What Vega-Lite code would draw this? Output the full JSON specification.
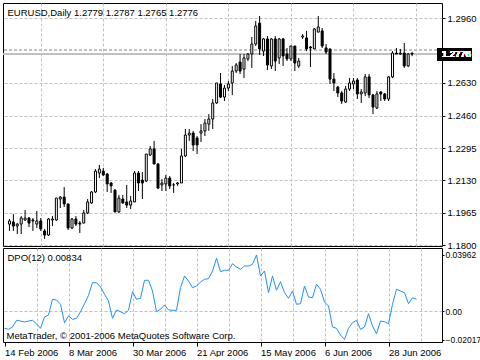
{
  "$schema": "https://vega.github.io/schema/vega-lite/v6.json",
  "padding": {"left": 2, "top": 2, "right": 0, "bottom": 0},
  "autosize": {"type": "pad"},
  "background": "white",
  "bounds": "flush",
  "config": {
    "view": {"stroke": "black", "strokeWidth": 1},
    "concat": {"spacing": 2},
    "axis": {"labelFont": "Liberation Sans", "labelFontSize": 9.5, "labelColor": "black", "titleFont": "Liberation Sans", "titleFontSize": 9.5, "titleFontWeight": "normal", "titleColor": "black", "labelOverlap": false, "labelFlush": false}
  },
  "datasets": {
    "bars": [
      {"i":0,"d":"2006-02-14","o":1.1907,"h":1.1933,"l":1.1872,"c":1.1923,"dpo":-0.01224},
      {"i":1,"d":"2006-02-15","o":1.1918,"h":1.1958,"l":1.1872,"c":1.1897,"dpo":-0.01295},
      {"i":2,"d":"2006-02-16","o":1.1897,"h":1.1912,"l":1.1856,"c":1.1907,"dpo":-0.01132},
      {"i":3,"d":"2006-02-17","o":1.1907,"h":1.1948,"l":1.1856,"c":1.1938,"dpo":-0.00658},
      {"i":4,"d":"2006-02-20","o":1.1928,"h":1.1979,"l":1.1923,"c":1.1938,"dpo":-0.00708},
      {"i":5,"d":"2006-02-21","o":1.1938,"h":1.1943,"l":1.1892,"c":1.1912,"dpo":-0.00778},
      {"i":6,"d":"2006-02-22","o":1.1928,"h":1.1938,"l":1.1872,"c":1.1923,"dpo":-0.00708},
      {"i":7,"d":"2006-02-23","o":1.1907,"h":1.1974,"l":1.1887,"c":1.1923,"dpo":-0.00658},
      {"i":8,"d":"2006-02-24","o":1.1923,"h":1.1938,"l":1.1872,"c":1.1882,"dpo":-0.00899},
      {"i":9,"d":"2006-02-27","o":1.1872,"h":1.1882,"l":1.1831,"c":1.1851,"dpo":-0.01224},
      {"i":10,"d":"2006-02-28","o":1.1851,"h":1.1938,"l":1.1846,"c":1.1933,"dpo":-0.00425},
      {"i":11,"d":"2006-03-01","o":1.1928,"h":1.1948,"l":1.1897,"c":1.1933,"dpo":-0.00283},
      {"i":12,"d":"2006-03-02","o":1.1928,"h":1.2040,"l":1.1923,"c":1.2040,"dpo":0.00828},
      {"i":13,"d":"2006-03-03","o":1.2035,"h":1.2050,"l":1.1989,"c":1.2045,"dpo":0.00778},
      {"i":14,"d":"2006-03-06","o":1.2045,"h":1.2096,"l":1.1994,"c":1.2010,"dpo":0.00474},
      {"i":15,"d":"2006-03-07","o":1.2010,"h":1.2010,"l":1.1877,"c":1.1887,"dpo":-0.00828},
      {"i":16,"d":"2006-03-08","o":1.1887,"h":1.1938,"l":1.1882,"c":1.1933,"dpo":-0.00354},
      {"i":17,"d":"2006-03-09","o":1.1933,"h":1.1948,"l":1.1897,"c":1.1907,"dpo":-0.00587},
      {"i":18,"d":"2006-03-10","o":1.1912,"h":1.1923,"l":1.1861,"c":1.1907,"dpo":-0.00517},
      {"i":19,"d":"2006-03-13","o":1.1912,"h":1.1979,"l":1.1912,"c":1.1964,"dpo":-0.00050},
      {"i":20,"d":"2006-03-14","o":1.1964,"h":1.2035,"l":1.1958,"c":1.2020,"dpo":0.00517},
      {"i":21,"d":"2006-03-15","o":1.2015,"h":1.2076,"l":1.2010,"c":1.2071,"dpo":0.01111},
      {"i":22,"d":"2006-03-16","o":1.2071,"h":1.2188,"l":1.2066,"c":1.2178,"dpo":0.02003},
      {"i":23,"d":"2006-03-17","o":1.2168,"h":1.2209,"l":1.2142,"c":1.2188,"dpo":0.02003},
      {"i":24,"d":"2006-03-20","o":1.2178,"h":1.2194,"l":1.2153,"c":1.2158,"dpo":0.01699},
      {"i":25,"d":"2006-03-21","o":1.2163,"h":1.2168,"l":1.2071,"c":1.2112,"dpo":0.01182},
      {"i":26,"d":"2006-03-22","o":1.2117,"h":1.2122,"l":1.2066,"c":1.2102,"dpo":0.00708},
      {"i":27,"d":"2006-03-23","o":1.2081,"h":1.2086,"l":1.1969,"c":1.1969,"dpo":-0.00517},
      {"i":28,"d":"2006-03-24","o":1.1969,"h":1.2056,"l":1.1964,"c":1.2040,"dpo":0.00071},
      {"i":29,"d":"2006-03-27","o":1.2035,"h":1.2056,"l":1.2010,"c":1.2015,"dpo":-0.00050},
      {"i":30,"d":"2006-03-28","o":1.2020,"h":1.2107,"l":1.1989,"c":1.2004,"dpo":-0.00191},
      {"i":31,"d":"2006-03-29","o":1.2004,"h":1.2050,"l":1.1984,"c":1.2025,"dpo":0.00050},
      {"i":32,"d":"2006-03-30","o":1.2020,"h":1.2178,"l":1.2020,"c":1.2168,"dpo":0.01366},
      {"i":33,"d":"2006-03-31","o":1.2168,"h":1.2178,"l":1.2076,"c":1.2117,"dpo":0.00828},
      {"i":34,"d":"2006-04-03","o":1.2132,"h":1.2173,"l":1.2035,"c":1.2117,"dpo":0.00899},
      {"i":35,"d":"2006-04-04","o":1.2127,"h":1.2265,"l":1.2122,"c":1.2265,"dpo":0.02173},
      {"i":36,"d":"2006-04-05","o":1.2260,"h":1.2306,"l":1.2255,"c":1.2291,"dpo":0.02173},
      {"i":37,"d":"2006-04-06","o":1.2291,"h":1.2332,"l":1.2214,"c":1.2214,"dpo":0.01415},
      {"i":38,"d":"2006-04-07","o":1.2214,"h":1.2219,"l":1.2086,"c":1.2091,"dpo":-0.00050},
      {"i":39,"d":"2006-04-10","o":1.2107,"h":1.2137,"l":1.2076,"c":1.2117,"dpo":0.00120},
      {"i":40,"d":"2006-04-11","o":1.2112,"h":1.2158,"l":1.2076,"c":1.2142,"dpo":0.00425},
      {"i":41,"d":"2006-04-12","o":1.2142,"h":1.2153,"l":1.2086,"c":1.2102,"dpo":0.00071},
      {"i":42,"d":"2006-04-13","o":1.2107,"h":1.2117,"l":1.2066,"c":1.2107,"dpo":0.00050},
      {"i":43,"d":"2006-04-14","o":1.2112,"h":1.2122,"l":1.2102,"c":1.2117,"dpo":0.00050},
      {"i":44,"d":"2006-04-17","o":1.2117,"h":1.2291,"l":1.2117,"c":1.2255,"dpo":0.01649},
      {"i":45,"d":"2006-04-18","o":1.2255,"h":1.2393,"l":1.2250,"c":1.2362,"dpo":0.02477},
      {"i":46,"d":"2006-04-19","o":1.2362,"h":1.2393,"l":1.2332,"c":1.2372,"dpo":0.02123},
      {"i":47,"d":"2006-04-20","o":1.2372,"h":1.2383,"l":1.2280,"c":1.2311,"dpo":0.01649},
      {"i":48,"d":"2006-04-21","o":1.2347,"h":1.2357,"l":1.2265,"c":1.2311,"dpo":0.01769},
      {"i":49,"d":"2006-04-24","o":1.2372,"h":1.2418,"l":1.2326,"c":1.2383,"dpo":0.02052},
      {"i":50,"d":"2006-04-25","o":1.2383,"h":1.2444,"l":1.2357,"c":1.2423,"dpo":0.02243},
      {"i":51,"d":"2006-04-26","o":1.2418,"h":1.2469,"l":1.2383,"c":1.2444,"dpo":0.02286},
      {"i":52,"d":"2006-04-27","o":1.2444,"h":1.2546,"l":1.2393,"c":1.2526,"dpo":0.02831},
      {"i":53,"d":"2006-04-28","o":1.2526,"h":1.2628,"l":1.2521,"c":1.2628,"dpo":0.03730},
      {"i":54,"d":"2006-05-01","o":1.2623,"h":1.2679,"l":1.2551,"c":1.2556,"dpo":0.02781},
      {"i":55,"d":"2006-05-02","o":1.2556,"h":1.2618,"l":1.2536,"c":1.2602,"dpo":0.02880},
      {"i":56,"d":"2006-05-03","o":1.2602,"h":1.2638,"l":1.2587,"c":1.2623,"dpo":0.02880},
      {"i":57,"d":"2006-05-04","o":1.2628,"h":1.2715,"l":1.2566,"c":1.2689,"dpo":0.03348},
      {"i":58,"d":"2006-05-05","o":1.2689,"h":1.2730,"l":1.2679,"c":1.2720,"dpo":0.03114},
      {"i":59,"d":"2006-05-08","o":1.2735,"h":1.2776,"l":1.2674,"c":1.2689,"dpo":0.02951},
      {"i":60,"d":"2006-05-09","o":1.2699,"h":1.2776,"l":1.2653,"c":1.2756,"dpo":0.03185},
      {"i":61,"d":"2006-05-10","o":1.2751,"h":1.2781,"l":1.2740,"c":1.2776,"dpo":0.03185},
      {"i":62,"d":"2006-05-11","o":1.2776,"h":1.2863,"l":1.2705,"c":1.2827,"dpo":0.03305},
      {"i":63,"d":"2006-05-12","o":1.2827,"h":1.2945,"l":1.2817,"c":1.2919,"dpo":0.03962},
      {"i":64,"d":"2006-05-15","o":1.2934,"h":1.2970,"l":1.2771,"c":1.2802,"dpo":0.02477},
      {"i":65,"d":"2006-05-16","o":1.2791,"h":1.2858,"l":1.2766,"c":1.2853,"dpo":0.02831},
      {"i":66,"d":"2006-05-17","o":1.2853,"h":1.2868,"l":1.2694,"c":1.2720,"dpo":0.01295},
      {"i":67,"d":"2006-05-18","o":1.2715,"h":1.2858,"l":1.2699,"c":1.2853,"dpo":0.02477},
      {"i":68,"d":"2006-05-19","o":1.2853,"h":1.2868,"l":1.2689,"c":1.2740,"dpo":0.01465},
      {"i":69,"d":"2006-05-22","o":1.2756,"h":1.2858,"l":1.2725,"c":1.2853,"dpo":0.02074},
      {"i":70,"d":"2006-05-23","o":1.2853,"h":1.2858,"l":1.2715,"c":1.2766,"dpo":0.01295},
      {"i":71,"d":"2006-05-24","o":1.2776,"h":1.2807,"l":1.2740,"c":1.2751,"dpo":0.00899},
      {"i":72,"d":"2006-05-25","o":1.2751,"h":1.2817,"l":1.2740,"c":1.2817,"dpo":0.01415},
      {"i":73,"d":"2006-05-26","o":1.2817,"h":1.2817,"l":1.2689,"c":1.2730,"dpo":0.00474},
      {"i":74,"d":"2006-05-29","o":1.2715,"h":1.2756,"l":1.2705,"c":1.2740,"dpo":0.00517},
      {"i":75,"d":"2006-05-30","o":1.2863,"h":1.2878,"l":1.2853,"c":1.2868,"dpo":0.01769},
      {"i":76,"d":"2006-05-31","o":1.2858,"h":1.2894,"l":1.2791,"c":1.2802,"dpo":0.00991},
      {"i":77,"d":"2006-06-01","o":1.2812,"h":1.2817,"l":1.2710,"c":1.2807,"dpo":0.00941},
      {"i":78,"d":"2006-06-02","o":1.2802,"h":1.2909,"l":1.2802,"c":1.2904,"dpo":0.01890},
      {"i":79,"d":"2006-06-05","o":1.2888,"h":1.2970,"l":1.2888,"c":1.2914,"dpo":0.01536},
      {"i":80,"d":"2006-06-06","o":1.2894,"h":1.2909,"l":1.2807,"c":1.2817,"dpo":0.00637},
      {"i":81,"d":"2006-06-07","o":1.2807,"h":1.2827,"l":1.2776,"c":1.2786,"dpo":0.00354},
      {"i":82,"d":"2006-06-08","o":1.2802,"h":1.2802,"l":1.2623,"c":1.2648,"dpo":-0.01132},
      {"i":83,"d":"2006-06-09","o":1.2648,"h":1.2679,"l":1.2587,"c":1.2628,"dpo":-0.01224},
      {"i":84,"d":"2006-06-12","o":1.2607,"h":1.2613,"l":1.2556,"c":1.2577,"dpo":-0.01699},
      {"i":85,"d":"2006-06-13","o":1.2577,"h":1.2587,"l":1.2521,"c":1.2536,"dpo":-0.02017},
      {"i":86,"d":"2006-06-14","o":1.2531,"h":1.2613,"l":1.2526,"c":1.2597,"dpo":-0.01224},
      {"i":87,"d":"2006-06-15","o":1.2597,"h":1.2653,"l":1.2587,"c":1.2628,"dpo":-0.00828},
      {"i":88,"d":"2006-06-16","o":1.2623,"h":1.2653,"l":1.2597,"c":1.2638,"dpo":-0.00658},
      {"i":89,"d":"2006-06-19","o":1.2643,"h":1.2653,"l":1.2546,"c":1.2572,"dpo":-0.01295},
      {"i":90,"d":"2006-06-20","o":1.2572,"h":1.2597,"l":1.2526,"c":1.2582,"dpo":-0.01132},
      {"i":91,"d":"2006-06-21","o":1.2577,"h":1.2674,"l":1.2561,"c":1.2659,"dpo":-0.00191},
      {"i":92,"d":"2006-06-22","o":1.2659,"h":1.2674,"l":1.2551,"c":1.2567,"dpo":-0.01062},
      {"i":93,"d":"2006-06-23","o":1.2567,"h":1.2572,"l":1.2469,"c":1.2505,"dpo":-0.01607},
      {"i":94,"d":"2006-06-26","o":1.2500,"h":1.2587,"l":1.2495,"c":1.2572,"dpo":-0.00708},
      {"i":95,"d":"2006-06-27","o":1.2582,"h":1.2587,"l":1.2536,"c":1.2572,"dpo":-0.00757},
      {"i":96,"d":"2006-06-28","o":1.2572,"h":1.2577,"l":1.2536,"c":1.2546,"dpo":-0.00899},
      {"i":97,"d":"2006-06-29","o":1.2546,"h":1.2664,"l":1.2536,"c":1.2659,"dpo":0.00474},
      {"i":98,"d":"2006-06-30","o":1.2659,"h":1.2791,"l":1.2653,"c":1.2781,"dpo":0.01536},
      {"i":99,"d":"2006-07-03","o":1.2781,"h":1.2807,"l":1.2776,"c":1.2776,"dpo":0.01415},
      {"i":100,"d":"2006-07-04","o":1.2776,"h":1.2802,"l":1.2771,"c":1.2781,"dpo":0.01295},
      {"i":101,"d":"2006-07-05","o":1.2781,"h":1.2832,"l":1.2705,"c":1.2715,"dpo":0.00517},
      {"i":102,"d":"2006-07-06","o":1.2715,"h":1.2781,"l":1.2710,"c":1.2776,"dpo":0.00941},
      {"i":103,"d":"2006-07-07","o":1.2779,"h":1.2787,"l":1.2765,"c":1.2776,"dpo":0.00834}
    ]
  },
  "vconcat": [
    {
      "width": 439,
      "height": 243,
      "data": {"name": "bars"},
      "layer": [
        {
          "mark": {"type": "rule", "color": "#c0c0c0", "strokeWidth": 1, "strokeDash": [3, 2]},
          "encoding": {
            "y": {"datum": 1.2795, "type": "quantitative"}
          }
        },
        {
          "mark": {"type": "rule", "color": "#c0c0c0", "strokeWidth": 1},
          "encoding": {
            "y": {"datum": 1.2776, "type": "quantitative"}
          }
        },
        {
          "mark": {"type": "rule", "color": "black", "strokeWidth": 1},
          "encoding": {
            "x": {
              "field": "i", "type": "quantitative",
              "scale": {"domain": [-0.375, 109.375], "nice": false, "zero": false},
              "axis": {
                "orient": "top",
                "values": [8, 16, 24, 32, 40, 48, 56, 64, 72, 80, 88, 96, 104],
                "labels": false, "ticks": false, "domain": false,
                "grid": true, "gridColor": "#c0c0c0", "gridDash": [3, 2],
                "title": "EURUSD,Daily  1.2779 1.2787 1.2765 1.2776",
                "titleX": 4, "titleY": 12, "titleAlign": "left", "titleBaseline": "alphabetic", "titleAnchor": "start"
              }
            },
            "y": {
              "field": "l", "type": "quantitative",
              "scale": {"domain": [1.1795, 1.30367], "nice": false, "zero": false},
              "axis": {
                "orient": "right",
                "values": [1.18, 1.1965, 1.213, 1.2295, 1.246, 1.263, 1.296],
                "format": ".4f",
                "labelOverlap": false,
                "title": null,
                "grid": true, "gridColor": "#c0c0c0", "gridDash": [3, 2],
                "domain": false,
                "tickColor": "black", "tickSize": 3, "labelPadding": 2
              }
            },
            "y2": {"field": "h"}
          }
        },
        {
          "mark": {"type": "bar", "size": 2, "stroke": "black", "strokeWidth": 1},
          "encoding": {
            "x": {"field": "i", "type": "quantitative"},
            "y": {"field": "o", "type": "quantitative"},
            "y2": {"field": "c"},
            "fill": {"condition": {"test": "datum.c >= datum.o", "value": "white"}, "value": "black"}
          }
        },
        {
          "mark": {"type": "rect", "color": "black", "clip": false},
          "encoding": {
            "x": {"datum": 109.55, "type": "quantitative"},
            "x2": {"datum": 118.3},
            "y": {"datum": 1.2807, "type": "quantitative"},
            "y2": {"datum": 1.2741}
          }
        },
        {
          "mark": {"type": "text", "color": "white", "align": "left", "baseline": "middle", "font": "Liberation Sans", "fontSize": 9.5, "clip": false},
          "encoding": {
            "x": {"datum": 110.6, "type": "quantitative"},
            "y": {"datum": 1.2774, "type": "quantitative"},
            "text": {"value": "1.2776"}
          }
        }
      ]
    },
    {
      "width": 439,
      "height": 94,
      "data": {"name": "bars"},
      "mark": {"type": "line", "color": "#1e90ff", "strokeWidth": 1},
      "encoding": {
        "x": {
          "field": "i", "type": "quantitative",
          "scale": {"domain": [-0.375, 109.375], "nice": false, "zero": false},
          "axis": {
            "orient": "bottom",
            "values": [0, 8, 16, 24, 32, 40, 48, 56, 64, 72, 80, 88, 96, 104],
            "labelExpr": "datum.value==0?'14 Feb 2006':datum.value==16?'8 Mar 2006':datum.value==32?'30 Mar 2006':datum.value==48?'21 Apr 2006':datum.value==64?'15 May 2006':datum.value==80?'6 Jun 2006':datum.value==96?'28 Jun 2006':''",
            "labelAlign": "left", "labelBaseline": "top", "labelPadding": 1,
            "labelOverlap": false,
            "domain": false,
            "grid": true, "gridColor": "#c0c0c0", "gridDash": [3, 2],
            "gridOpacity": {"condition": {"test": "datum.value > 0", "value": 1}, "value": 0},
            "tickColor": "black", "tickSize": 4,
            "tickOpacity": {"condition": {"test": "datum.value % 16 == 0", "value": 1}, "value": 0},
            "title": "MetaTrader, © 2001-2006 MetaQuotes Software Corp.",
            "titleX": 3, "titleY": -4, "titleAlign": "left", "titleBaseline": "alphabetic", "titleAnchor": "start"
          }
        },
        "y": {
          "field": "dpo", "type": "quantitative",
          "scale": {"domain": [-0.02193, 0.04457], "nice": false, "zero": false},
          "axis": {
            "orient": "right",
            "values": [-0.02017, 0, 0.03962],
            "labelExpr": "datum.value == 0 ? '0.00' : format(datum.value, '.5f')",
            "labelOverlap": false,
            "labelFontSize": 8.5,
            "domain": false,
            "grid": true, "gridColor": "#c0c0c0", "gridDash": [3, 2],
            "gridOpacity": {"condition": {"test": "datum.value == 0", "value": 1}, "value": 0},
            "tickColor": "black", "tickSize": 2, "labelPadding": 1,
            "title": "DPO(12) 0.00834",
            "titleX": -435, "titleY": 12, "titleAngle": 0, "titleAlign": "left", "titleBaseline": "alphabetic", "titleAnchor": "start"
          }
        }
      }
    }
  ]
}
